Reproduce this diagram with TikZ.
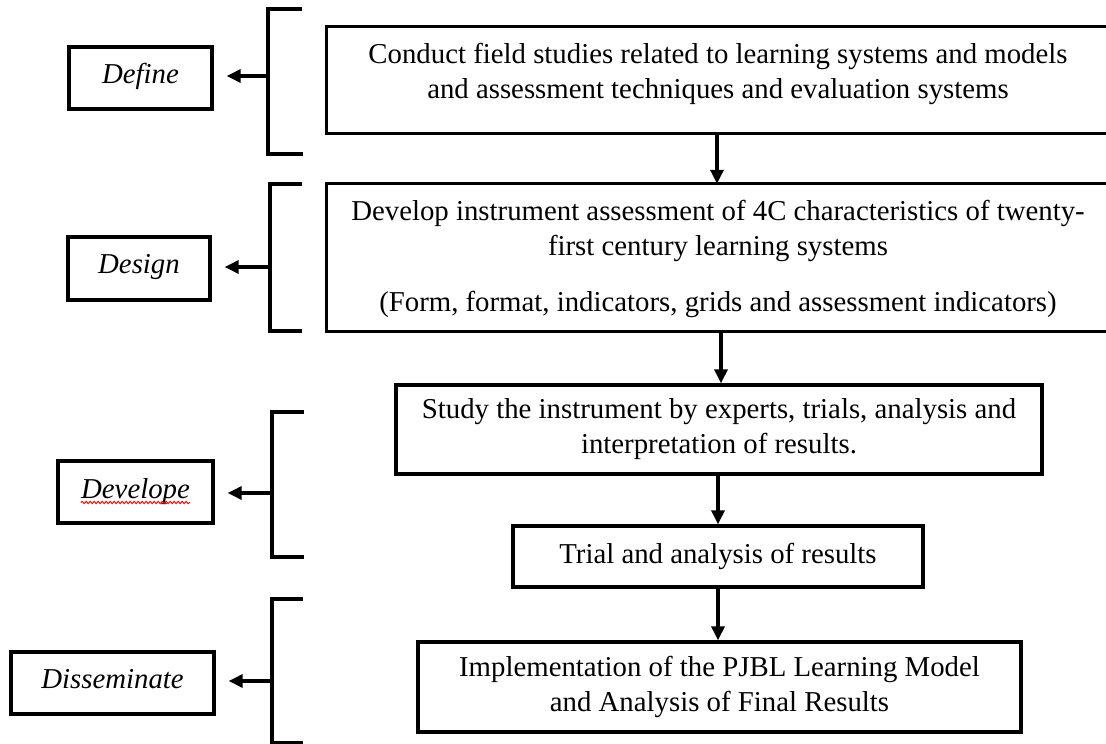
\documentclass[tikz,border=0pt]{standalone}
\usepackage{fontspec}
\setmainfont{Liberation Serif}
\usetikzlibrary{arrows.meta,decorations.pathmorphing,calc}
\begin{document}
\begin{tikzpicture}[x=1pt,y=-1pt,
  txt/.style={font=\fontsize{28.8}{35}\selectfont,align=center,inner sep=0pt},
  mainbox/.style={txt,draw,line width=3.3pt,rectangle},
  openbox/.style={rectangle,inner sep=0pt},
  openline/.style={line width=3.3pt},
  lab/.style={draw,line width=3.3pt,rectangle,inner sep=0pt,text height=19pt,text depth=9pt,font=\fontsize{28.8}{35}\selectfont\itshape},
  labtxt/.style={inner sep=0pt,font=\fontsize{28.8}{35}\selectfont\itshape},
  brk/.style={line width=3.5pt},
  arr/.style={line width=3.2pt,-{Triangle[length=14pt,width=13pt]}},
  wavy/.style={red,line width=0.9pt,decorate,decoration={snake,amplitude=1.2pt,segment length=4pt}}
]
\useasboundingbox (0,0) rectangle (1106,744);

% main boxes (the two upper ones run past the right edge)
\node[openbox,minimum width=779pt,minimum height=106pt] (def) at (716.5,80) {};
\draw[openline] (def.north east) -- (def.north west) -- (def.south west) -- (def.south east);
\node[txt] (deftxt) at (718,74) {Conduct field studies related to learning systems and models\\and assessment techniques and evaluation systems};

\node[openbox,minimum width=779pt,minimum height=147pt] (des) at (716.5,257.5) {};
\draw[openline] (des.north east) -- (des.north west) -- (des.south west) -- (des.south east);
\node[txt] (destxt) at (718,259) {Develop instrument assessment of 4C characteristics of twenty-\\first century learning systems\\[21pt](Form, format, indicators, grids and assessment indicators)};

\node[mainbox,minimum width=646pt,minimum height=89pt] (stu) at (719,429.5) {Study the instrument by experts, trials, analysis and\\interpretation of results.};
\node[mainbox,minimum width=410pt,minimum height=61pt] (tri) at (718,556.5) {Trial and analysis of results};
\node[mainbox,minimum width=603pt,minimum height=90pt] (imp) at (719.5,687) {Implementation of the PJBL Learning Model\\and Analysis of Final Results};

% vertical arrows
\coordinate (ax1) at (717,0);
\coordinate (ax2) at (721,0);
\coordinate (ax3) at (718,0);
\draw[arr] (def.south -| ax1) -- (des.north -| ax1);
\draw[arr] (des.south -| ax2) -- (stu.north -| ax2);
\draw[arr] (stu.south -| ax3) -- (tri.north -| ax3);
\draw[arr] (tri.south -| ax3) -- (imp.north -| ax3);

% phase labels
\node[lab,minimum width=143pt,minimum height=62pt] (ldef) at (140.5,78) {Define};
\node[lab,minimum width=142pt,minimum height=63pt] (ldes) at (139,268.5) {Design};
\node[lab,minimum width=155pt,minimum height=62pt] (ldev) at (135.5,492) {};
\node[labtxt,anchor=base] (ldevtxt) at ($(ldev.center)+(0,6)$) {Develope};
\draw[wavy] ($(ldevtxt.base west)+(0,4.5)$) -- ($(ldevtxt.base east)+(0,4.5)$);
\node[lab,minimum width=203pt,minimum height=62pt] (ldis) at (112.5,683) {Disseminate};

% brackets
\draw[brk] (302,9) -- (268,9) -- (268,154) -- (303,154);
\draw[brk] (302,184) -- (270,184) -- (270,331) -- (302,331);
\draw[brk] (304,412) -- (272,412) -- (272,557) -- (304,557);
\draw[brk] (303,599) -- (272,599) -- (272,742.5) -- (303,742.5);
\coordinate (bdef) at (268,76);
\coordinate (bdes) at (270,267);
\coordinate (bdev) at (272,493);
\coordinate (bdis) at (272,681);

% arrows from brackets to labels
\draw[arr,shorten >=13pt] (bdef) -- (bdef -| ldef.east);
\draw[arr,shorten >=13pt] (bdes) -- (bdes -| ldes.east);
\draw[arr,shorten >=13pt] (bdev) -- (bdev -| ldev.east);
\draw[arr,shorten >=13pt] (bdis) -- (bdis -| ldis.east);
\end{tikzpicture}
\end{document}
